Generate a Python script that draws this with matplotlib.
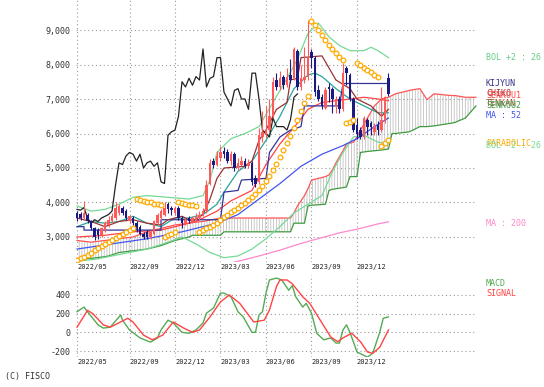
import matplotlib
matplotlib.use('Agg')
import matplotlib.pyplot as plt
import numpy as np

# weekly candles, week 0 = first bar (2022/05)
opens = [3700, 3680, 3550, 3650, 3450, 3250, 3200, 3050, 3200, 3350,
         3450, 3550, 3700, 3850, 3750, 3450, 3550, 3400, 3300, 3100,
         3150, 3000, 3100, 3400, 3550, 3650, 3950, 3850, 3700, 3850,
         3550, 3400, 3550, 3450, 3500, 3550, 3650, 3750, 4550, 5200,
         5100, 5300, 5500, 5450, 5200, 5400, 5000, 5100, 5200, 5050,
         5150, 4700, 4600, 5900, 5950, 6100, 6500, 7550, 7350, 7650,
         7400, 7700, 7600, 8400, 7350, 7550, 7650, 8350, 8200, 7250,
         7050, 6750, 7350, 7300, 6800, 7000, 6700, 7900, 7700, 7000,
         6250, 6100, 5900, 6400, 6300, 6050, 6250, 6100, 6400, 7600]
closes = [3550, 3560, 3700, 3450, 3250, 3000, 3050, 3250, 3400, 3500,
          3600, 3850, 3900, 3700, 3550, 3600, 3400, 3200, 3100, 3000,
          3000, 3150, 3450, 3650, 3750, 3850, 3800, 3780, 3850, 3550,
          3400, 3500, 3450, 3550, 3600, 3650, 3750, 4500, 5150, 5100,
          5350, 5450, 5400, 5200, 5400, 5000, 5150, 5200, 5050, 5150,
          4600, 4550, 5950, 6050, 6100, 6500, 7500, 7350, 7600, 7400,
          7650, 7550, 8450, 7350, 7600, 7650, 8200, 8200, 7200, 7000,
          6800, 7250, 7300, 7000, 7000, 6700, 7750, 7750, 7000, 6100,
          6000, 5900, 6450, 6200, 6200, 6200, 6100, 6400, 7050, 7150]
highs = [3750, 3720, 4050, 3700, 3500, 3300, 3250, 3300, 3450, 3600,
         3700, 4000, 3950, 3900, 3800, 3650, 3600, 3450, 3350, 3150,
         3200, 3200, 3500, 3700, 3800, 4000, 4000, 3900, 3900, 3900,
         3600, 3550, 3600, 3600, 3700, 3750, 3850, 4650, 5250, 5300,
         5500, 5650, 5600, 5550, 5500, 5450, 5300, 5350, 5300, 5250,
         5200, 4800, 6150, 6650, 6800, 7000, 7650, 7750, 7800, 7700,
         7900, 8150, 8500, 8450, 8000, 8500, 9300, 8450, 8250, 7400,
         7150, 7350, 7450, 7350, 7100, 7100, 8050, 7950, 7750, 7050,
         6450, 6200, 6500, 6450, 6350, 6300, 6350, 7350, 7100, 7750]
lows = [3450, 3480, 3500, 3400, 3200, 2900, 2950, 3000, 3150, 3300,
        3400, 3500, 3650, 3650, 3500, 3400, 3350, 3150, 3050, 2950,
        2950, 2950, 3050, 3350, 3500, 3600, 3700, 3650, 3650, 3500,
        3250, 3350, 3400, 3400, 3450, 3500, 3600, 3700, 4500, 5000,
        5050, 5200, 5300, 5150, 5100, 4900, 4950, 5050, 5000, 5000,
        4500, 4450, 4550, 5750, 5900, 6050, 6450, 7250, 7250, 7300,
        7350, 7450, 7550, 7250, 7250, 7450, 7550, 7900, 7100, 6950,
        6700, 6700, 6900, 6600, 6600, 6600, 6650, 7400, 6950, 6050,
        5850, 5850, 5850, 5950, 5950, 5950, 5950, 6050, 6300, 7100]

# parabolic SAR, one value per week
psar = [2330, 2380, 2430, 2490, 2550, 2610, 2670, 2730, 2790, 2850,
        2910, 2970, 3030, 3090, 3150, 3200, 3250,
        4100, 4080, 4050, 4020, 4000, 3970, 3950, 3930,
        3000, 3050, 3100, 3150,
        4000, 3980, 3960, 3940, 3920, 3900,
        3150, 3200, 3250, 3300, 3350, 3420, 3500, 3570, 3640, 3710,
        3780, 3850, 3920, 3990, 4070, 4150, 4250, 4360, 4480, 4620,
        4780, 4950, 5130, 5320, 5520, 5720, 5930, 6150, 6400, 6650,
        6880, 7080,
        9250, 9150, 9000, 8850, 8700, 8570, 8450, 8330, 8220, 8120,
        6300, 6330, 6380,
        8050, 7980, 7910, 7840, 7770, 7700, 7640,
        5650, 5720, 5800]

# ichimoku cloud (leading spans, run 26 weeks ahead)
senkou_weeks = [0, 4, 8, 9, 12, 16, 20, 24, 28, 32, 33, 36, 41, 42, 61, 62, 63, 65, 66, 67,
                71, 72, 73, 74, 76, 77, 78, 79, 80, 81, 83, 85, 87, 89, 90, 91, 95, 96, 98, 100,
                102, 107, 108, 111, 114]
senkou1 = [2900, 2850, 2900, 2910, 2950, 3000, 3150, 3250, 3350, 3400, 3420, 3450, 3550, 3550, 3550,
           3700, 3900, 4200, 4400, 4650, 4750, 4800, 4950, 5150, 5500, 5700, 5720, 5750, 5900, 6100,
           6450, 6800, 7000, 7050, 7100, 7150, 7250, 7270, 7300, 6980, 7150, 7100, 7100, 7050, 7050]
senkou2 = [2350, 2380, 2430, 2450, 2550, 2600, 2650, 2750, 2900, 3000, 3050, 3050, 3050, 3150, 3150,
           3400, 3400, 3400, 3900, 3920, 3950, 4350, 4380, 4400, 4430, 4450, 4750, 4750, 4750, 5450,
           5480, 5500, 5520, 5550, 6000, 6000, 6050, 6100, 6200, 6200, 6220, 6300, 6320, 6450, 6800]

kijun_weeks = [0, 2, 2, 24, 24, 41, 42, 46, 47, 54, 55, 58, 61, 64, 65, 75, 76, 89]
kijun = [3300, 3300, 3200, 3200, 3500, 3500, 4300, 4350, 4650, 4700, 5450, 5900, 6100, 6200,
         6800, 6800, 7450, 7450]

tenkan_weeks = [0, 4, 8, 12, 16, 20, 24, 26, 30, 33, 36, 38, 40, 42, 48, 50, 52, 54, 57, 60,
                61, 63, 64, 70, 72, 74, 78, 80, 84, 87, 89]
tenkan = [3550, 3450, 3300, 3450, 3500, 3400, 3350, 3500, 3600, 3450, 3650, 4100, 4700, 5000,
          5050, 5200, 5800, 6100, 6700, 6900, 7550, 7600, 8200, 8250, 7900, 7550, 7300, 7000,
          6800, 6500, 6700]

ma13_weeks = [0, 4, 8, 12, 16, 20, 24, 28, 32, 36, 40, 42, 46, 50, 54, 58, 62, 66, 68, 70,
              74, 78, 82, 86, 89]
ma13 = [3300, 3450, 3400, 3450, 3600, 3400, 3300, 3550, 3550, 3650, 3950, 4300, 4900, 5200,
        5800, 6500, 7300, 7700, 7750, 7650, 7300, 7000, 6800, 6600, 6600]

ma26_weeks = [0, 8, 16, 24, 30, 34, 40, 44, 47, 50, 54, 58, 63, 66, 70, 74, 78, 82, 86, 89]
ma26 = [3000, 3050, 3150, 3200, 3350, 3450, 3750, 4050, 4200, 4350, 5100, 5700, 6300, 6700,
        6900, 6950, 7000, 7050, 7000, 6950]

ma52_weeks = [0, 10, 20, 30, 40, 46, 52, 58, 64, 70, 76, 80, 85, 89]
ma52 = [2650, 2800, 2950, 3150, 3400, 3650, 4100, 4550, 5050, 5400, 5650, 5850, 6200, 6450]

ma200_weeks = [44, 47, 52, 58, 63, 67, 71, 75, 81, 86, 89]
ma200 = [2250, 2320, 2450, 2620, 2780, 2900, 3010, 3120, 3250, 3380, 3440]

bol_up_weeks = [0, 4, 8, 12, 16, 20, 26, 32, 36, 38, 40, 44, 48, 52, 56, 60, 63, 66, 69, 72,
                75, 78, 82, 84, 86, 89]
bol_up = [3900, 3750, 3800, 3950, 4150, 4200, 4150, 4100, 4200, 4650, 5450, 5850, 6000, 6200,
          6900, 7600, 8150, 8900, 9200, 8800, 8550, 8400, 8400, 8500, 8400, 8200]
bol_dn_weeks = [0, 5, 10, 15, 20, 26, 30, 34, 38, 42, 46, 50, 54, 58, 62, 66, 70, 73, 76, 79,
                82, 86, 89]
bol_dn = [2300, 2350, 2450, 2550, 2650, 2850, 3000, 2800, 2550, 2400, 2450, 2650, 2950, 3300,
          3700, 3950, 4200, 4900, 5450, 5900, 5950, 5750, 5700]

macd_weeks = [0, 2, 3, 6, 7.5, 9.5, 10.5, 12.5, 13, 15, 18, 21, 23, 24, 26, 27.5, 30, 32, 34, 36,
              37, 39, 41, 42, 44, 46, 47.5, 50, 51, 52, 53, 54, 55, 57, 58.5, 60.5, 61.5, 62.5,
              64.5, 65.5, 67, 68.5, 70.5, 72.5, 74, 75, 76, 77, 78, 80, 83, 84.5, 86.5, 87.5, 89]
macd = [220, 270, 220, 80, 45, 55, 100, 185, 130, 25, -60, -105, -60, 25, 130, 100, 0, -10, 25,
        100, 205, 260, 420, 420, 380, 220, 165, 0, 0, 185, 220, 420, 560, 580, 560, 450, 500, 380,
        270, 310, 205, -10, -80, -60, -115, -115, 25, 80, 0, -210, -265, -225, 0, 150, 165]
signal_weeks = [0, 3, 4.5, 7.5, 9.5, 14.5, 16, 19, 21.5, 24.5, 27.5, 30.5, 33, 35, 38, 41, 43.5,
                46.5, 50.5, 53.5, 55, 57, 58, 60, 61.5, 64.5, 66.5, 69.5, 72.5, 74.5, 76, 78.5,
                81, 83, 84.5, 86.5, 89]
signal = [55, 235, 200, 80, 55, 150, 110, -30, -80, -30, 110, 45, 0, 25, 165, 325, 400, 310, 110,
          130, 240, 490, 560, 560, 520, 380, 310, 130, -50, -100, -60, -10, -100, -210, -225,
          -160, 25]

tick_weeks = [0, 15, 28, 41, 54, 67, 80]
tick_labels = ['2022/05', '2022/09', '2022/12', '2023/03', '2023/06', '2023/09', '2023/12']
price_ticks = [3000, 4000, 5000, 6000, 7000, 8000, 9000]
macd_ticks = [-200, 0, 200, 400]

UP = '#ff5a5a'
DOWN = '#1a1a80'
MONO = 'DejaVu Sans Mono'
W, H = 544, 387


def fx(px):
    return px / W


def fy(py):
    return 1 - py / H


def style_axis(ax, yticks, ylabels):
    for s in ax.spines.values():
        s.set_visible(False)
    ax.set_xlim(-0.29, 114.3)
    ax.set_xticks(tick_weeks, tick_labels, ha='left', fontsize=5, family=MONO, color='#222222')
    ax.set_yticks(yticks, ylabels, fontsize=6, family=MONO, color='#333333')
    ax.tick_params(length=0, pad=1.5, axis='x')
    ax.tick_params(length=0, pad=4, axis='y')
    ax.grid(True, color='#999999', linestyle=(0, (1, 2.5)), linewidth=0.8)
    ax.set_axisbelow(True)


plt.rcParams['hatch.linewidth'] = 0.5
fig = plt.figure(figsize=(W / 100, H / 100), dpi=100)
fig.patch.set_facecolor('white')

ax = fig.add_axes([fx(76), fy(262), fx(477) - fx(76), 262 / H])
style_axis(ax, price_ticks, ['{:,}'.format(v) for v in price_ticks])
ax.set_ylim(2275, 9870)

# cloud
ax.fill_between(senkou_weeks, senkou1, senkou2, facecolor='none', edgecolor='#b5b5b5',
                hatch='||||||', linewidth=0, zorder=1)
ax.plot(senkou_weeks, senkou1, color='#ff5555', lw=0.9, zorder=2)
ax.plot(senkou_weeks, senkou2, color='#3f9a3f', lw=0.9, zorder=2)

ax.plot(bol_up_weeks, bol_up, color='#77d996', lw=0.9, zorder=2)
ax.plot(bol_dn_weeks, bol_dn, color='#77d996', lw=0.9, zorder=2)
ax.plot(ma200_weeks, ma200, color='#ff88cc', lw=0.9, zorder=2)
ax.plot(ma52_weeks, ma52, color='#4455ee', lw=0.9, zorder=2)
ax.plot(ma26_weeks, ma26, color='#ff4444', lw=0.9, zorder=2)
ax.plot(ma13_weeks, ma13, color='#2aa39a', lw=0.9, zorder=2)
ax.plot(kijun_weeks, kijun, color='#333399', lw=0.9, zorder=2)
ax.plot(tenkan_weeks, tenkan, color='#993333', lw=0.9, zorder=2)

# lagging span: close drawn 26 weeks back
chiko = closes[26:]
ax.plot(np.arange(len(chiko)), chiko, color='#222222', lw=0.9, zorder=2)

# candles
o = np.array(opens)
c = np.array(closes)
x = np.arange(len(o))
col = np.where(c >= o, UP, DOWN)
ax.vlines(x, lows, highs, colors=col, lw=0.8, zorder=3)
ax.bar(x, np.maximum(np.abs(c - o), 25), bottom=np.minimum(o, c), width=0.62,
       color=col, linewidth=0, zorder=3)

ax.plot(np.arange(len(psar)), psar, linestyle='none', marker='o', ms=3.4,
        markerfacecolor='white', markeredgecolor='#ffaa00', mew=0.9, zorder=4)

# MACD panel
ax2 = fig.add_axes([fx(76), fy(357), fx(477) - fx(76), 82 / H])
style_axis(ax2, macd_ticks, [str(v) for v in macd_ticks])
ax2.set_ylim(-264, 613)
ax2.plot(macd_weeks, macd, color='#55aa55', lw=1.0)
ax2.plot(signal_weeks, signal, color='#ff4444', lw=1.0)

# end-of-line labels; they pile up where the series end close together, as in the original
labels = [
    ('BOL +2 : 26', 58, '#66cc88'),
    ('KIJYUN', 84, '#333388'),
    ('CHIKO', 94, '#aa3333'),
    ('SENKOU1', 96, '#ff4444'),
    ('TENKAN', 104, '#8a5a30'),
    ('SENKOU2', 106, '#449944'),
    ('MA : 52', 116, '#4455ee'),
    ('PARABOLIC', 144, '#ffaa00'),
    ('BOL -2 : 26', 146, '#77d996'),
    ('MA : 200', 223, '#ff88cc'),
    ('MACD', 283, '#55aa55'),
    ('SIGNAL', 293, '#ff4444'),
]
for text, py, color in labels:
    fig.text(fx(486), fy(py), text, color=color, fontsize=6, family=MONO, va='center')

fig.text(fx(5), fy(377), '(C) FISCO', color='#333333', fontsize=6, family=MONO, va='center')

fig.savefig('out.png', dpi=100)
